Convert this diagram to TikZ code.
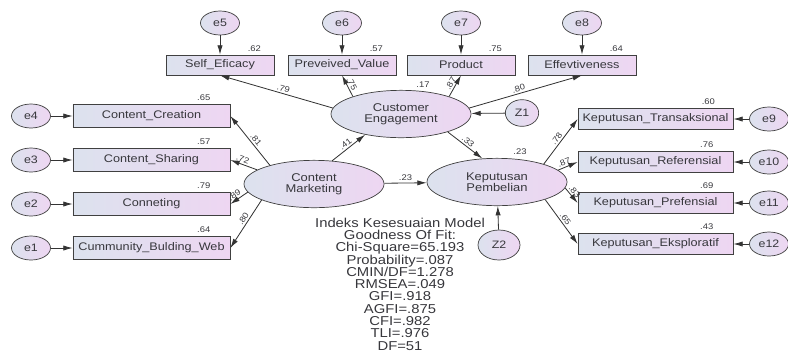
\documentclass[tikz,border=0pt]{standalone}
\usepackage{fontspec}
\setmainfont[FakeStretch=1.15]{Liberation Sans}
\usetikzlibrary{shapes,arrows.meta}

\definecolor{fillL}{RGB}{220,226,238}
\definecolor{fillR}{RGB}{238,214,242}
\definecolor{ink}{RGB}{55,55,60}
\lineskiplimit=-100pt

\begin{document}
\begin{tikzpicture}[%
    x=0.03cm, y=-0.03cm,                 % layout measured in pixels, y downwards
    >={Latex[length=8pt,width=4.5pt]},   % long filled heads as in AMOS
    ]
% -------------------------------------------------
% Box styles
\tikzset{
  base/.style={draw=black!75, line width=0.6pt, left color=fillL, right color=fillR, text=ink},
  obs/.style={base, rectangle, inner sep=0pt, font=\fontsize{9.4}{12}\selectfont},
  obstop/.style={obs, minimum width=3.24cm, minimum height=0.6cm},
  obsleft/.style={obs, minimum width=4.71cm, minimum height=0.69cm},
  obsright/.style={obs, minimum width=4.65cm, minimum height=0.65cm},
  lat/.style={base, ellipse, inner sep=0pt, minimum width=4.2cm, minimum height=1.42cm,
    align=center, font=\fontsize{9.6}{9.6}\selectfont},
  err/.style={base, ellipse, inner sep=0pt, minimum width=1.17cm, minimum height=0.72cm,
    font=\fontsize{9.2}{12}\selectfont},
  % Connector and label styles
  reg/.style={->, draw=black!80, line width=0.7pt},
  coef/.style={font=\fontsize{7}{8}\selectfont, text=ink, inner sep=1.5pt},
  fitnote/.style={align=center, text=ink, font=\fontsize{11}{10.5}\selectfont}
}
\useasboundingbox (0,0) rectangle (788,352);
% -------------------------------------------------
% Latent variables
\node [lat] (cm) at (314,184) {Content\\Marketing};
\node [lat] (ce) at (401,114) {Customer\\Engagement};
\node [lat] (kp) at (497,182) {Keputusan\\Pembelian};
\node [err, minimum width=1.0cm, minimum height=0.8cm] (z1) at (522,113) {Z1};
\node [err, minimum width=1.26cm, minimum height=0.9cm] (z2) at (499,245) {Z2};

% Indicators of Customer Engagement (top row)
\node [obstop] (se) at (220,65) {Self\_Eficacy};
\node [obstop] (pv) at (342,65) {Preveived\_Value};
\node [obstop] (pr) at (461,65) {Product};
\node [obstop] (ef) at (582,65) {Effevtiveness};
\node [err] (e5) at (220,23) {e5};
\node [err] (e6) at (342,23) {e6};
\node [err] (e7) at (461,23) {e7};
\node [err] (e8) at (582,23) {e8};

% Indicators of Content Marketing (left column)
\node [obsleft] (cc) at (151.5,116) {Content\_Creation};
\node [obsleft] (cs) at (151.5,160) {Content\_Sharing};
\node [obsleft] (cn) at (151.5,204) {Conneting};
\node [obsleft] (cb) at (151.5,248) {Cummunity\_Bulding\_Web};
\node [err] (e4) at (31,116) {e4};
\node [err] (e3) at (31,160) {e3};
\node [err] (e2) at (31,204) {e2};
\node [err] (e1) at (31,248) {e1};

% Indicators of Keputusan Pembelian (right column)
\node [obsright] (tr) at (655.5,119) {Keputusan\_Transaksional};
\node [obsright] (rf) at (655.5,162) {Keputusan\_Referensial};
\node [obsright] (pf) at (655.5,203) {Keputusan\_Prefensial};
\node [obsright] (ek) at (655.5,244) {Keputusan\_Eksploratif};
\node [err] (e9) at (769,119) {e9};
\node [err] (e10) at (769,162) {e10};
\node [err] (e11) at (769,203) {e11};
\node [err] (e12) at (769,244) {e12};

% Squared multiple correlations
\node [coef, anchor=south] (se-r2) at ([xshift=-0.6cm,yshift=1pt]se.north east) {.62};
\node [coef, anchor=south] (pv-r2) at ([xshift=-0.6cm,yshift=1pt]pv.north east) {.57};
\node [coef, anchor=south] (pr-r2) at ([xshift=-0.6cm,yshift=1pt]pr.north east) {.75};
\node [coef, anchor=south] (ef-r2) at ([xshift=-0.6cm,yshift=1pt]ef.north east) {.64};
\node [coef, anchor=south] (cc-r2) at ([xshift=-0.8cm,yshift=1pt]cc.north east) {.65};
\node [coef, anchor=south] (cs-r2) at ([xshift=-0.8cm,yshift=1pt]cs.north east) {.57};
\node [coef, anchor=south] (cn-r2) at ([xshift=-0.8cm,yshift=1pt]cn.north east) {.79};
\node [coef, anchor=south] (cb-r2) at ([xshift=-0.8cm,yshift=1pt]cb.north east) {.64};
\node [coef, anchor=south] (tr-r2) at ([xshift=-0.75cm,yshift=1pt]tr.north east) {.60};
\node [coef, anchor=south] (rf-r2) at ([xshift=-0.8cm,yshift=1pt]rf.north east) {.76};
\node [coef, anchor=south] (pf-r2) at ([xshift=-0.8cm,yshift=1pt]pf.north east) {.69};
\node [coef, anchor=south] (ek-r2) at ([xshift=-0.8cm,yshift=1pt]ek.north east) {.43};
\node [coef] (ce-r2) at (423,85) {.17};
\node [coef] (kp-r2) at (520,152) {.23};

% Fit summary
\node [fitnote] (gof) at (400,284) {Indeks Kesesuaian Model\\Goodness Of Fit:\\
  Chi-Square=65.193\\Probability=.087\\CMIN/DF=1.278\\RMSEA=.049\\GFI=.918\\
  AGFI=.875\\CFI=.982\\TLI=.976\\DF=51};

% -------------------------------------------------
% Structural paths
\draw [reg] (cm.52) -- node [coef, sloped, above] {.41} (ce.210);
\draw [reg] (ce.339) -- node [coef, sloped, above] {.33} (kp.122);
\draw [reg] (cm) -- node [coef, above] {.23} (kp);
\draw [reg] (z1) -- (ce);
\draw [reg] (z2) -- (kp);

% Loadings
\draw [reg] (ce.175) -- node [coef, sloped, above, pos=0.45] {.79} (se.south);
\draw [reg] (ce.160) -- node [coef, sloped, above] {.75} (pv.south);
\draw [reg] (ce.20) -- node [coef, sloped, above] {.87} (pr.south);
\draw [reg] (ce.5) -- node [coef, sloped, above, pos=0.45] {.80} (ef.south);

\draw [reg] (cm.157) -- node [coef, sloped, above, pos=0.45] {.81} (cc.east);
\draw [reg] (cm.166) -- node [coef, sloped, above, pos=0.6] {.72} (cs.east);
\draw [reg] (cm.187) -- node [coef, sloped, above, pos=0.6] {.89} (cn.east);
\draw [reg] (cm.197) -- node [coef, sloped, above, pos=0.45] {.80} (cb.east);

\draw [reg] (kp.21) -- node [coef, sloped, above] {.78} (tr.west);
\draw [reg] (kp.11) -- node [coef, sloped, above, pos=0.4] {.87} (rf.west);
\draw [reg] (kp.-5) -- node [coef, sloped, above, pos=0.45] {.83} (pf.west);
\draw [reg] (kp.-20) -- node [coef, sloped, above] {.65} (ek.west);

% Error terms
\draw [reg] (e5) -- (se);
\draw [reg] (e6) -- (pv);
\draw [reg] (e7) -- (pr);
\draw [reg] (e8) -- (ef);
\draw [reg] (e4) -- (cc);
\draw [reg] (e3) -- (cs);
\draw [reg] (e2) -- (cn);
\draw [reg] (e1) -- (cb);
\draw [reg] (e9) -- (tr);
\draw [reg] (e10) -- (rf);
\draw [reg] (e11) -- (pf);
\draw [reg] (e12) -- (ek);
% -------------------------------------------------
\end{tikzpicture}
\end{document}
